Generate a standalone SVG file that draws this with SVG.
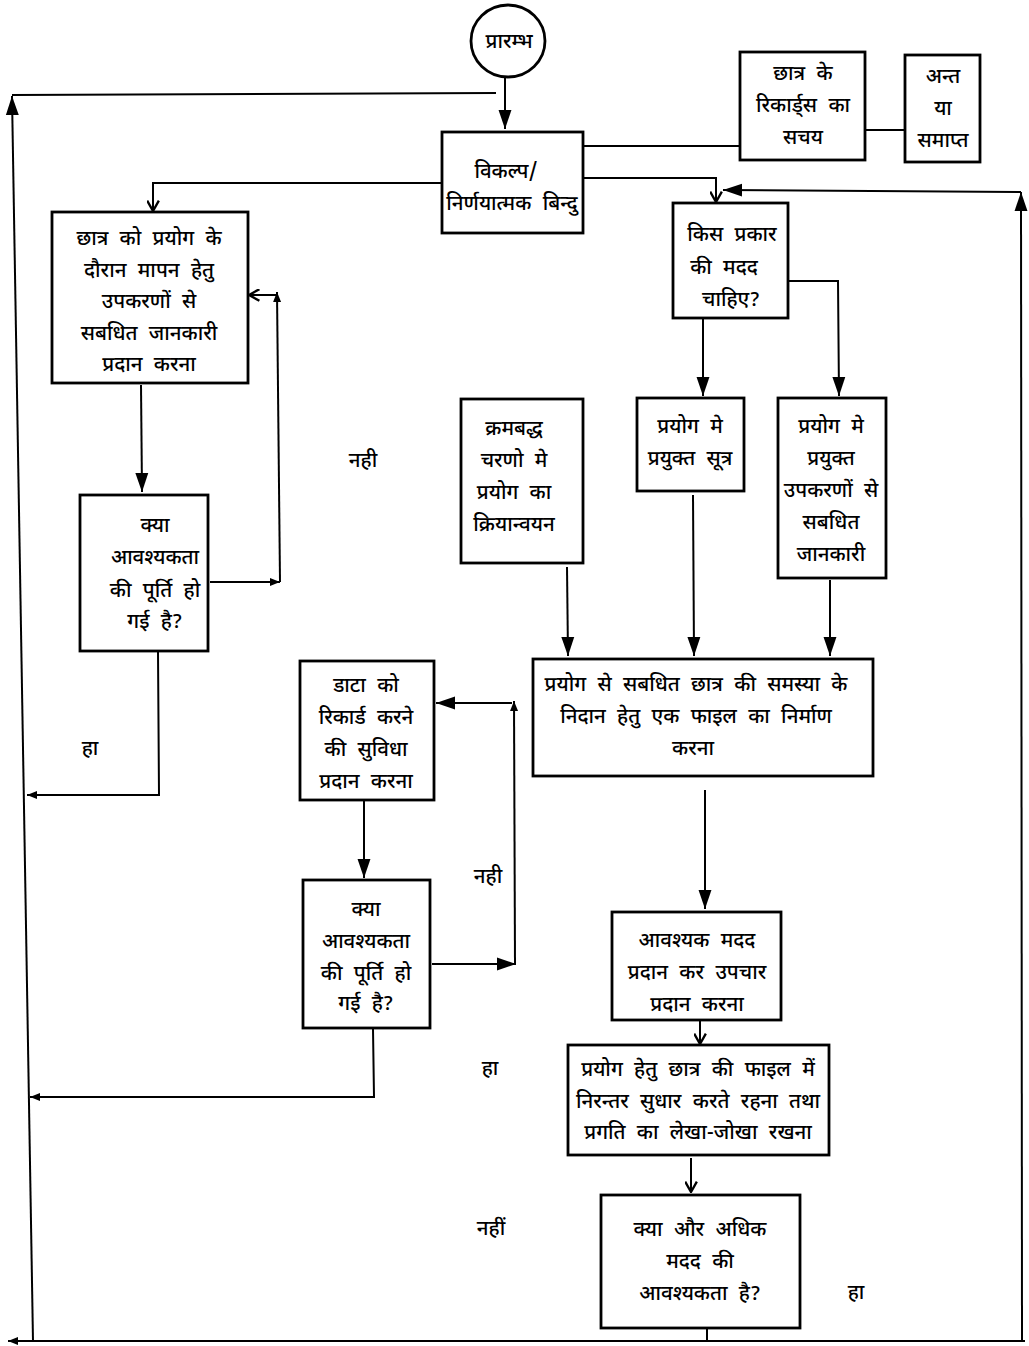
<svg xmlns="http://www.w3.org/2000/svg" width="1029" height="1346" viewBox="0 0 1029 1346">
<style>
.box{fill:#fff;stroke:#000;stroke-width:2.8}
.ln{fill:none;stroke:#000;stroke-width:2}
text{font-family:"Noto Sans Devanagari","Noto Sans","Lohit Devanagari","FreeSans",sans-serif;font-size:20.5px;font-weight:500;fill:#000;text-anchor:middle;word-spacing:6px}
</style>
<defs>
<marker id="af" viewBox="0 0 10 10" refX="10" refY="5" markerWidth="10" markerHeight="10" markerUnits="userSpaceOnUse" orient="auto"><path d="M0,1 L10,5 L0,9 z" fill="#000"/></marker>
<marker id="ab" viewBox="0 0 10 10" refX="10" refY="5" markerWidth="19" markerHeight="19" markerUnits="userSpaceOnUse" orient="auto"><path d="M0,1.6 L10,5 L0,8.4 z" fill="#000"/></marker>
<marker id="ao" viewBox="0 0 10 10" refX="9" refY="5" markerWidth="13" markerHeight="13" markerUnits="userSpaceOnUse" orient="auto"><path d="M1,0.5 L9,5 L1,9.5" fill="none" stroke="#000" stroke-width="1.8"/></marker>
</defs>
<rect width="1029" height="1346" fill="#fff"/>
<g id="connectors">
<line class="ln" x1="505" y1="76" x2="505" y2="129" marker-end="url(#ab)"/>
<line class="ln" x1="496" y1="93" x2="12" y2="95"/>
<line class="ln" x1="33" y1="1341" x2="12" y2="96" marker-end="url(#ab)"/>
<line class="ln" x1="582" y1="146" x2="740" y2="146"/>
<line class="ln" x1="865" y1="130" x2="905" y2="130"/>
<polyline class="ln" points="582,178 716,178 716,202" marker-end="url(#ao)"/>
<polyline class="ln" points="707,1328 707,1341"/>
<line class="ln" x1="1025" y1="1341" x2="8" y2="1341" marker-end="url(#af)"/>
<line class="ln" x1="1022" y1="1341" x2="1021" y2="192" marker-end="url(#ab)"/>
<line class="ln" x1="1021" y1="192" x2="723" y2="190" marker-end="url(#ab)"/>
<line class="ln" x1="703" y1="318" x2="703" y2="396" marker-end="url(#ab)"/>
<polyline class="ln" points="788,281 838,281 839,396" marker-end="url(#ab)"/>
<line class="ln" x1="567" y1="567" x2="568" y2="656" marker-end="url(#ab)"/>
<line class="ln" x1="693" y1="495" x2="694" y2="656" marker-end="url(#ab)"/>
<line class="ln" x1="830" y1="580" x2="830" y2="656" marker-end="url(#ab)"/>
<line class="ln" x1="705" y1="790" x2="705" y2="909" marker-end="url(#ab)"/>
<line class="ln" x1="700" y1="1020" x2="700" y2="1044" marker-end="url(#ao)"/>
<line class="ln" x1="691" y1="1158" x2="691" y2="1192" marker-end="url(#ao)"/>
<polyline class="ln" points="442,183 153,183 153,211" marker-end="url(#ao)"/>
<line class="ln" x1="141" y1="385" x2="142" y2="492" marker-end="url(#ab)"/>
<line class="ln" x1="210" y1="582" x2="280" y2="582" marker-end="url(#af)"/>
<line class="ln" x1="280" y1="582" x2="277" y2="292" marker-end="url(#af)"/>
<line class="ln" x1="276" y1="295" x2="249" y2="295" marker-end="url(#ao)"/>
<polyline class="ln" points="158,652 159,795 27,795" marker-end="url(#af)"/>
<line class="ln" x1="364" y1="801" x2="364" y2="878" marker-end="url(#ab)"/>
<line class="ln" x1="432" y1="964" x2="516" y2="964" marker-end="url(#ab)"/>
<line class="ln" x1="515" y1="964" x2="514" y2="701" marker-end="url(#af)"/>
<line class="ln" x1="512" y1="703" x2="436" y2="703" marker-end="url(#ab)"/>
<polyline class="ln" points="373,1029 374,1097 30,1097" marker-end="url(#af)"/>
</g>
<g id="labels">
<text x="363" y="467">नही</text>
<text x="90" y="755">हा</text>
<text x="488" y="883">नही</text>
<text x="490" y="1075">हा</text>
<text x="491" y="1235">नहीं</text>
<text x="856" y="1299">हा</text>
</g>
<g id="start"><ellipse cx="508" cy="41" rx="37" ry="36" class="box"/><text x="509" y="48">प्रारम्भ</text></g>
<g id="choice"><rect x="442" y="132" width="141" height="101" class="box"/><text x="506" y="178">विकल्प/</text><text x="512" y="210">निर्णयात्मक बिन्दु</text></g>
<g id="records"><rect x="740" y="52" width="125" height="108" class="box"/><text x="803" y="80">छात्र के</text><text x="803" y="112">रिकार्ड्स का</text><text x="803" y="144">सचय</text></g>
<g id="end"><rect x="905" y="55" width="75" height="107" class="box"/><text x="943" y="83">अन्त</text><text x="943" y="115">या</text><text x="943" y="147">समाप्त</text></g>
<g id="helptype"><rect x="673" y="203" width="115" height="115" class="box"/><text x="732" y="241">किस प्रकार</text><text x="724" y="274">की मदद</text><text x="731" y="306">चाहिए?</text></g>
<g id="formula"><rect x="637" y="398" width="107" height="93" class="box"/><text x="690" y="433">प्रयोग मे</text><text x="690" y="465">प्रयुक्त सूत्र</text></g>
<g id="tools"><rect x="778" y="398" width="108" height="180" class="box"/><text x="831" y="433">प्रयोग मे</text><text x="831" y="465">प्रयुक्त</text><text x="831" y="497">उपकरणों से</text><text x="831" y="529">सबधित</text><text x="831" y="561">जानकारी</text></g>
<g id="steps"><rect x="461" y="399" width="122" height="164" class="box"/><text x="514" y="435">क्रमबद्ध</text><text x="514" y="467">चरणो मे</text><text x="514" y="499">प्रयोग का</text><text x="514" y="531">क्रियान्वयन</text></g>
<g id="file"><rect x="533" y="659" width="340" height="117" class="box"/><text x="696" y="691">प्रयोग से सबधित छात्र की समस्या के</text><text x="696" y="723">निदान हेतु एक फाइल का निर्माण</text><text x="693" y="755">करना</text></g>
<g id="help"><rect x="612" y="912" width="169" height="108" class="box"/><text x="697" y="947">आवश्यक मदद</text><text x="697" y="979">प्रदान कर उपचार</text><text x="697" y="1011">प्रदान करना</text></g>
<g id="improve"><rect x="568" y="1045" width="261" height="110" class="box"/><text x="698" y="1076">प्रयोग हेतु छात्र की फाइल में</text><text x="698" y="1108">निरन्तर सुधार करते रहना तथा</text><text x="698" y="1139">प्रगति का लेखा-जोखा रखना</text></g>
<g id="more"><rect x="601" y="1195" width="199" height="133" class="box"/><text x="700" y="1236">क्या और अधिक</text><text x="700" y="1268">मदद की</text><text x="700" y="1300">आवश्यकता है?</text></g>
<g id="info"><rect x="52" y="212" width="196" height="171" class="box"/><text x="149" y="245">छात्र को प्रयोग के</text><text x="149" y="277">दौरान मापन हेतु</text><text x="149" y="308">उपकरणों से</text><text x="149" y="340">सबधित जानकारी</text><text x="149" y="371">प्रदान करना</text></g>
<g id="check1"><rect x="80" y="495" width="128" height="156" class="box"/><text x="155" y="532">क्या</text><text x="155" y="564">आवश्यकता</text><text x="155" y="597">की पूर्ति हो</text><text x="155" y="628">गई है?</text></g>
<g id="data"><rect x="300" y="661" width="134" height="139" class="box"/><text x="366" y="692">डाटा को</text><text x="366" y="724">रिकार्ड करने</text><text x="366" y="756">की सुविधा</text><text x="366" y="788">प्रदान करना</text></g>
<g id="check2"><rect x="303" y="880" width="127" height="148" class="box"/><text x="366" y="916">क्या</text><text x="366" y="948">आवश्यकता</text><text x="366" y="980">की पूर्ति हो</text><text x="366" y="1010">गई है?</text></g>
</svg>
